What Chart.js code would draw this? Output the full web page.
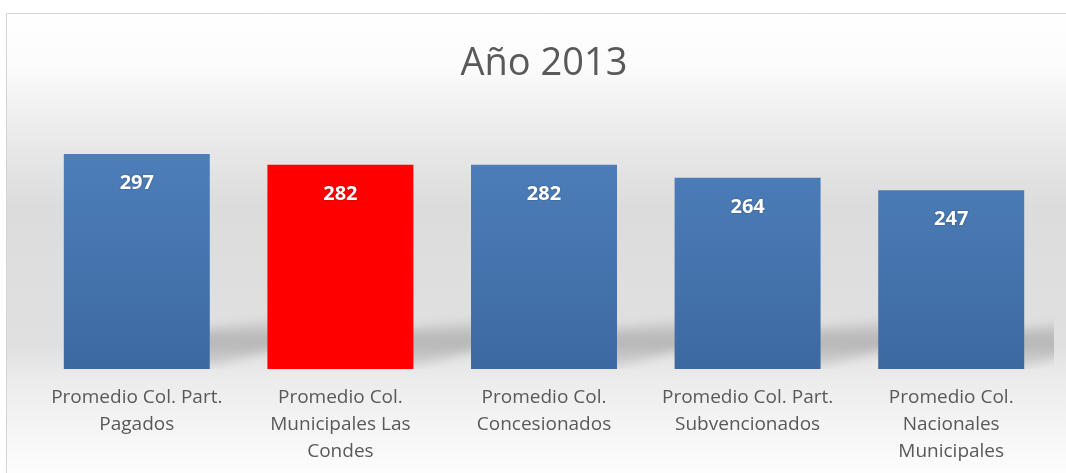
<!DOCTYPE html>
<html><head><meta charset="utf-8">
<script src="https://cdn.jsdelivr.net/npm/chart.js@4.4.1/dist/chart.umd.min.js"></script>
<style>html,body{margin:0;padding:0;background:#fff;overflow:hidden}#wrap{width:1066px;height:473px;position:relative}</style>
</head><body><div id="wrap"><canvas id="c" width="1066" height="473"></canvas></div>
<script>
const categories = [
  ["Promedio Col. Part.", "Pagados"],
  ["Promedio Col.", "Municipales Las", "Condes"],
  ["Promedio Col.", "Concesionados"],
  ["Promedio Col. Part.", "Subvencionados"],
  ["Promedio Col.", "Nacionales", "Municipales"]
];
const values = [297, 282, 282, 264, 247];
const highlightIndex = 1;
const titleText = "Año 2013";

const FONT = '"Open Sans", "DejaVu Sans", sans-serif';
const TEXT = '#595959';

const bgPlugin = {
  id: 'bg',
  beforeDraw(chart) {
    const ctx = chart.ctx, W = chart.width, H = chart.height;
    ctx.save();
    ctx.fillStyle = '#ffffff';
    ctx.fillRect(0, 0, W, H);
    const g = ctx.createLinearGradient(0, 13, 0, H);
    g.addColorStop(0, '#ffffff');
    g.addColorStop(0.12, '#fbfbfb');
    g.addColorStop(0.25, '#ececec');
    g.addColorStop(0.42, '#dcdcdc');
    g.addColorStop(0.72, '#e0e0e0');
    g.addColorStop(0.8, '#ececec');
    g.addColorStop(1, '#fdfdfd');
    ctx.fillStyle = g;
    ctx.fillRect(6, 13, W - 6, H - 13);
    ctx.strokeStyle = '#d4d4d4';
    ctx.lineWidth = 1;
    ctx.beginPath();
    ctx.moveTo(6.5, H);
    ctx.lineTo(6.5, 13.5);
    ctx.lineTo(W, 13.5);
    ctx.stroke();
    ctx.restore();
  }
};

const shadowPlugin = {
  id: 'barShadow',
  beforeDatasetsDraw(chart) {
    const ctx = chart.ctx, a = chart.chartArea;
    const meta = chart.getDatasetMeta(0);
    ctx.save();
    ctx.beginPath();
    ctx.rect(a.left, a.top, a.right - a.left + 1, a.bottom - a.top);
    ctx.clip();
    ctx.filter = 'blur(5px)';
    meta.data.forEach(el => {
      const R = el.x + el.width / 2;
      const B = el.base;
      const g = ctx.createLinearGradient(0, B - 52, 0, B);
      g.addColorStop(0, 'rgba(0,0,0,0.02)');
      g.addColorStop(0.45, 'rgba(0,0,0,0.19)');
      g.addColorStop(1, 'rgba(0,0,0,0.08)');
      ctx.fillStyle = g;
      ctx.beginPath();
      ctx.moveTo(R - 10, B);
      ctx.lineTo(R - 10, B - 40);
      ctx.lineTo(R + 70, B - 50);
      ctx.lineTo(R + 70, B - 20);
      ctx.closePath();
      ctx.fill();
    });
    ctx.restore();
  }
};

const labelPlugin = {
  id: 'valueLabels',
  afterDatasetsDraw(chart) {
    const ctx = chart.ctx;
    const meta = chart.getDatasetMeta(0);
    ctx.save();
    ctx.font = 'bold 20px ' + FONT;
    ctx.textAlign = 'center';
    ctx.textBaseline = 'middle';
    ctx.fillStyle = '#ffffff';
    ctx.shadowColor = 'rgba(0,0,0,0.35)';
    ctx.shadowBlur = 2;
    meta.data.forEach((el, i) => {
      ctx.fillText(String(values[i]), el.x, el.y + 29);
    });
    ctx.restore();
  }
};

new Chart(document.getElementById('c'), {
  type: 'bar',
  data: {
    labels: categories,
    datasets: [{
      data: values,
      backgroundColor(ctx) {
        if (ctx.dataIndex === highlightIndex) return '#ff0000';
        const chart = ctx.chart, a = chart.chartArea;
        if (!a) return '#4a7ab5';
        const el = ctx.element;
        const top = el && el.y !== undefined ? el.y : a.top;
        const g = chart.ctx.createLinearGradient(0, top, 0, a.bottom);
        g.addColorStop(0, '#5082be');
        g.addColorStop(1, '#3d69a1');
        return g;
      },
      borderWidth: 0,
      categoryPercentage: 1,
      barPercentage: 0.717
    }]
  },
  options: {
    responsive: false,
    animation: false,
    devicePixelRatio: 1,
    layout: { padding: { left: 35, right: 13, top: 0, bottom: 0 } },
    plugins: {
      legend: { display: false },
      tooltip: { enabled: false },
      title: {
        display: true,
        text: titleText,
        color: TEXT,
        font: { family: FONT, size: 38, weight: 'normal', lineHeight: 1.2 },
        padding: { top: 41, bottom: 29 }
      }
    },
    scales: {
      x: {
        grid: { display: false, drawTicks: false },
        border: { display: false },
        ticks: {
          color: TEXT,
          font: { family: FONT, size: 19, lineHeight: 27 / 19 },
          padding: 15,
          maxRotation: 0,
          autoSkip: false
        },
        afterFit(scale) { scale.height = 104; }
      },
      y: { display: false, min: 0, max: 350 }
    }
  },
  plugins: [bgPlugin, shadowPlugin, labelPlugin]
});
</script>
</body></html>
